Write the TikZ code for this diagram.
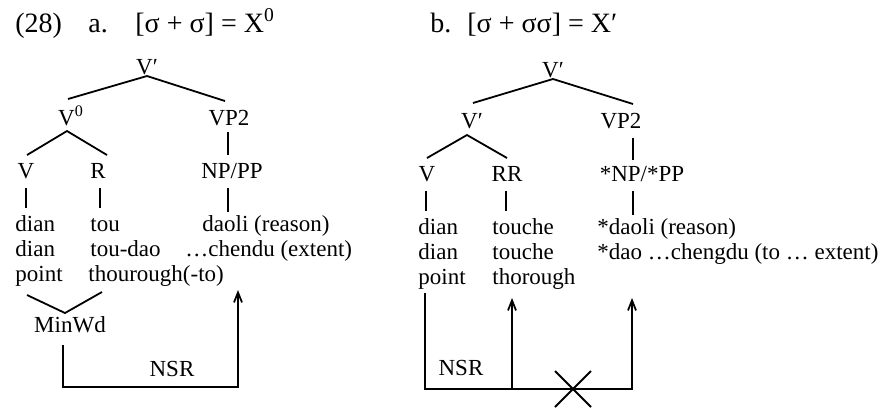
\documentclass[tikz,border=0pt]{standalone}
\usepackage{fontspec}
\setmainfont{Liberation Serif}
\usetikzlibrary{calc,arrows.meta}
\begin{document}
\begin{tikzpicture}[x=0.5pt,y=-0.5pt,
  t/.style={inner sep=0pt, anchor=base, font=\fontsize{11.5}{13}\selectfont},
  tw/.style={t, anchor=base west},
  hd/.style={inner sep=0pt, anchor=base west, font=\fontsize{14}{16}\selectfont},
  ln/.style={line width=0.9pt},
  arr/.style={ln, -{Straight Barb[length=5pt,width=4pt]}}]
\useasboundingbox (0,0) rectangle (895,409);
% header
\node[hd] (n28) at (15,32) {(28)};
\node[hd] (ha) at (88,32) {a.};
\node[hd] (hax) at (135,32) {[σ + σ] = X\textsuperscript{0}};
\node[hd] (hb) at (430,32) {b.};
\node[hd] (hbx) at (467,32) {[σ + σσ] = X′};
% tree a
\node[t] (Ta) at (147,74) {V′};
\node[t] (V0a) at (71,125) {V\textsuperscript{0}};
\node[t] (VP2a) at (229,125) {VP2};
\node[t] (Va) at (26,178) {V};
\node[t] (Ra) at (98,178) {R};
\node[t] (NPa) at (232,178) {NP/PP};
\node[tw] (a11) at (15,231) {dian};
\node[tw] (a12) at (90,231) {tou};
\node[t] (a13) at (266,231) {daoli (reason)};
\node[tw] (a21) at (15,256) {dian};
\node[tw] (a22) at (90,256) {tou-dao};
\node[tw] (a23) at (185,256) {…chendu (extent)};
\node[tw] (a31) at (15,281) {point};
\node[tw] (a32) at (88,281) {thourough(-to)};
\node[t] (mw) at (70,332) {MinWd};
\node[t] (nsra) at (172,376) {NSR};
\draw[ln] ($(V0a.base)+(-3,-26)$) -- ($(Ta.base)+(0,2)$) -- ($(VP2a.base)+(-4,-24)$);
\draw[ln] ($(Va.base)+(1,-23)$) -- ($(V0a.base)+(-4,6)$) -- ($(Ra.base)+(9,-23)$);
\draw[ln] ($(VP2a.base)+(-1,7)$) -- ($(NPa.base)+(-4,-23)$);
\draw[ln] ($(Va.base)+(0,10)$) -- ($(a11.base west)+(11,-23)$);
\draw[ln] ($(Ra.base)+(2,10)$) -- ($(a12.base west)+(10,-23)$);
\draw[ln] ($(NPa.base)+(-4,10)$) -- ($(a13.base)+(-38,-19)$);
\draw[ln] ($(a31.base west)+(12,14)$) -- ($(mw.base)+(-5,-19)$) -- ($(a32.base west)+(14,11)$);
\coordinate (tipa) at (238,290);
\draw[arr] ($(mw.base)+(-7,13)$) -- ++(0,42) -| (tipa);
% tree b
\node[t] (Tb) at (553,77) {V′};
\node[t] (Vbb) at (472,128) {V′};
\node[t] (VP2b) at (621,128) {VP2};
\node[t] (Vb) at (427,181) {V};
\node[t] (RRb) at (507,181) {RR};
\node[t] (NPb) at (642,181) {*NP/*PP};
\node[tw] (b11) at (418,234) {dian};
\node[tw] (b12) at (492,234) {touche};
\node[tw] (b13) at (597,234) {*daoli (reason)};
\node[tw] (b21) at (418,259) {dian};
\node[tw] (b22) at (492,259) {touche};
\node[tw] (b23) at (597,259) {*dao …chengdu (to … extent)};
\node[tw] (b31) at (418,284) {point};
\node[tw] (b32) at (492,284) {thorough};
\node[t] (nsrb) at (461,375) {NSR};
\draw[ln] ($(Vbb.base)+(1,-25)$) -- ($(Tb.base)+(0,2)$) -- ($(VP2b.base)+(12,-24)$);
\draw[ln] ($(Vb.base)+(0,-23)$) -- ($(Vbb.base)+(-5,7)$) -- ($(RRb.base)+(0,-23)$);
\draw[ln] ($(VP2b.base)+(12,10)$) -- ($(NPb.base)+(-9,-21)$);
\draw[ln] ($(Vb.base)+(-1,10)$) -- ($(b11.base west)+(8,-23)$);
\draw[ln] ($(RRb.base)+(-1,10)$) -- ($(b12.base west)+(14,-23)$);
\draw[ln] ($(NPb.base)+(-9,10)$) -- ($(b13.base west)+(36,-19)$);
\coordinate (tipb1) at (512,298);
\coordinate (tipb2) at (632,298);
\coordinate (cb) at (573,389);
\draw[arr] ($(b31.base west)+(7,9)$) -- ++(0,96) -| (tipb2);
\draw[arr] (tipb1 |- cb) -- (tipb1);
\draw[ln] ($(cb)+(-18,-18)$) -- ($(cb)+(18,18)$);
\draw[ln] ($(cb)+(18,-18)$) -- ($(cb)+(-18,18)$);
\end{tikzpicture}
\end{document}
